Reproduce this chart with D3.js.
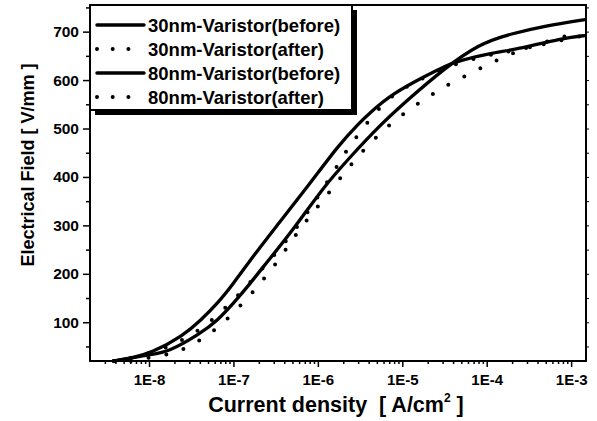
<!DOCTYPE html>
<html>
<head>
<meta charset="utf-8">
<script src="https://cdn.jsdelivr.net/npm/d3@7"></script>
<style>
  body { margin: 0; background: #fff; }
  svg { display: block; font-family: "Liberation Sans", Arial, sans-serif; font-weight: bold; }
</style>
</head>
<body>
<svg id="chart" width="597" height="421"></svg>
<script>
// current density [A/cm2] and field [V/mm]
const j30before = [3.8e-9, 6.1e-9, 1.06e-8, 2.58e-8, 4.09e-8, 6.49e-8, 1.0e-7, 1.58e-7, 2.08e-7, 2.96e-7, 7.43e-7, 1.82e-6, 3.12e-6, 4.09e-6, 7.62e-6, 1.91e-5, 3.30e-5, 4.69e-5, 1.06e-4, 2.58e-4, 7.62e-4, 1.46e-3];
const e30before = [20, 26, 36, 73, 104, 139, 180, 228, 255, 290, 378, 469, 512, 532, 572, 609, 630, 640, 655, 665, 686, 692];

const j30after = [3.8e-9, 1.06e-8, 4.09e-8, 1.58e-7, 6.14e-7, 1.21e-6, 1.67e-6, 2.25e-6, 3.30e-6, 4.94e-6, 8.05e-6, 1.38e-5, 3.30e-5, 1.06e-4, 2.58e-4, 7.62e-4, 1.46e-3];
const e30after = [20, 34, 77, 180, 300, 382, 420, 459, 496, 537, 572, 595, 628, 653, 663, 683, 692];

const j80before = [3.8e-9, 1.06e-8, 1.67e-8, 4.09e-8, 6.49e-8, 1.0e-7, 1.58e-7, 2.08e-7, 5.08e-7, 1.15e-6, 2.38e-6, 5.36e-6, 1.21e-5, 2.96e-5, 8.05e-5, 1.97e-4, 4.94e-4, 1.46e-3];
const e80before = [20, 34, 38, 77, 104, 139, 180, 207, 290, 378, 440, 506, 562, 620, 675, 696, 712, 725];

const j80after = [6.1e-9, 1.28e-8, 2.19e-8, 3.57e-8, 6.14e-8, 1.0e-7, 1.63e-7, 2.38e-7, 3.57e-7, 5.08e-7, 7.62e-7, 1.15e-6, 1.72e-6, 2.58e-6, 4.09e-6, 6.84e-6, 1.15e-5, 1.97e-5, 3.30e-5, 5.66e-5, 9.23e-5, 1.54e-4, 2.58e-4, 7.43e-4, 1.24e-3];
const e80after = [20, 30, 38, 57, 84, 119, 158, 193, 232, 273, 314, 352, 391, 430, 469, 506, 537, 564, 589, 609, 628, 646, 663, 688, 698];

const seriesNames = ["30nm-Varistor(before)", "30nm-Varistor(after)", "80nm-Varistor(before)", "80nm-Varistor(after)"];
const seriesDotted = [false, true, false, true];

const xTicks = [1e-8, 1e-7, 1e-6, 1e-5, 1e-4, 1e-3];
const xTickLabels = ["1E-8", "1E-7", "1E-6", "1E-5", "1E-4", "1E-3"];
const yTicks = [100, 200, 300, 400, 500, 600, 700];
const yMinor = [50, 150, 250, 350, 450, 550, 650, 750];

const series = [
  d3.zip(j30before, e30before),
  d3.zip(j30after, e30after),
  d3.zip(j80before, e80before),
  d3.zip(j80after, e80after)
];

const svg = d3.select("#chart");
const pLeft = 90, pRight = 586, pTop = 5, pBottom = 361;

const x = d3.scaleLog().domain([2e-9, 1.5e-3]).range([pLeft, pRight]);
const y = d3.scaleLinear().domain([20, 755]).range([pBottom, pTop]);

// minor log ticks 2..9 per decade
const xMinor = [];
for (let p = -9; p <= -3; p++) {
  for (let m = 2; m <= 9; m++) {
    const v = m * Math.pow(10, p);
    if (v > 2e-9 && v < 1.5e-3) xMinor.push(v);
  }
}

// bottom axis
const gx = svg.append("g").attr("transform", `translate(0,${pBottom})`);
gx.append("g").call(d3.axisBottom(x).tickValues(xMinor).tickSize(3).tickFormat(""));
gx.append("g").call(d3.axisBottom(x).tickValues(xTicks).tickSize(6).tickPadding(7)
  .tickFormat((d, i) => xTickLabels[i]));
gx.selectAll(".domain").remove();
gx.selectAll("line").attr("stroke", "#000").attr("stroke-width", 1.5);
gx.selectAll("text").attr("font-size", 15).attr("font-family", null).attr("fill", "#000");

// left axis
const gy = svg.append("g").attr("transform", `translate(${pLeft},0)`);
gy.append("g").call(d3.axisLeft(y).tickValues(yMinor).tickSize(4).tickFormat(""));
gy.append("g").call(d3.axisLeft(y).tickValues(yTicks).tickSize(7).tickPadding(4));
gy.selectAll(".domain").remove();
gy.selectAll("line").attr("stroke", "#000").attr("stroke-width", 1.5);
gy.selectAll("text").attr("font-size", 15.5).attr("font-family", null).attr("fill", "#000");

// right axis small ticks
const gr = svg.append("g").attr("transform", `translate(${pRight},0)`);
gr.call(d3.axisRight(y).tickValues(yTicks.concat(yMinor)).tickSize(3).tickFormat(""));
gr.selectAll(".domain").remove();
gr.selectAll("line").attr("stroke", "#000").attr("stroke-width", 1);

// frame
svg.append("rect").attr("x", pLeft).attr("y", pTop)
  .attr("width", pRight - pLeft).attr("height", pBottom - pTop)
  .attr("fill", "none").attr("stroke", "#000").attr("stroke-width", 2);

// curves
const line = d3.line().x(d => x(d[0])).y(d => y(d[1])).curve(d3.curveBasis);
svg.append("g").selectAll("path").data(series).join("path")
  .attr("d", line)
  .attr("fill", "none")
  .attr("stroke", "#000")
  .attr("stroke-width", (d, i) => seriesDotted[i] ? 4 : 3.3)
  .attr("stroke-linecap", "round")
  .attr("stroke-dasharray", (d, i) => seriesDotted[i] ? "0 18" : null);

// legend
const leg = svg.append("g");
leg.append("rect").attr("x", pLeft + 5).attr("y", pTop + 5).attr("width", 262).attr("height", 105).attr("fill", "#000");
leg.append("rect").attr("x", pLeft).attr("y", pTop).attr("width", 262).attr("height", 105)
  .attr("fill", "#fff").attr("stroke", "#000").attr("stroke-width", 2);
const rows = leg.selectAll("g.row").data(seriesNames).join("g")
  .attr("class", "row")
  .attr("transform", (d, i) => `translate(0,${25 + i * 24})`);
rows.append("line").attr("x1", 97).attr("x2", 144).attr("y1", 0).attr("y2", 0)
  .attr("stroke", "#000")
  .attr("stroke-width", (d, i) => seriesDotted[i] ? 4 : 3.5)
  .attr("stroke-linecap", "round")
  .attr("stroke-dasharray", (d, i) => seriesDotted[i] ? "0 15.7" : null);
rows.append("text").attr("x", 148).attr("y", 7)
  .attr("font-size", 18.5).text(d => d);

// axis titles
const xt = svg.append("text").attr("x", 336).attr("y", 412)
  .attr("text-anchor", "middle").attr("font-size", 21.5);
xt.append("tspan").text("Current density\u00A0\u00A0[ A/cm");
xt.append("tspan").attr("font-size", 12).attr("dy", -10).text("2");
xt.append("tspan").attr("dy", 10).text("\u00A0]");

svg.append("text")
  .attr("transform", "translate(34,165) rotate(-90)")
  .attr("text-anchor", "middle").attr("font-size", 18)
  .text("Electrical Field [ V/mm ]");
</script>
</body>
</html>
